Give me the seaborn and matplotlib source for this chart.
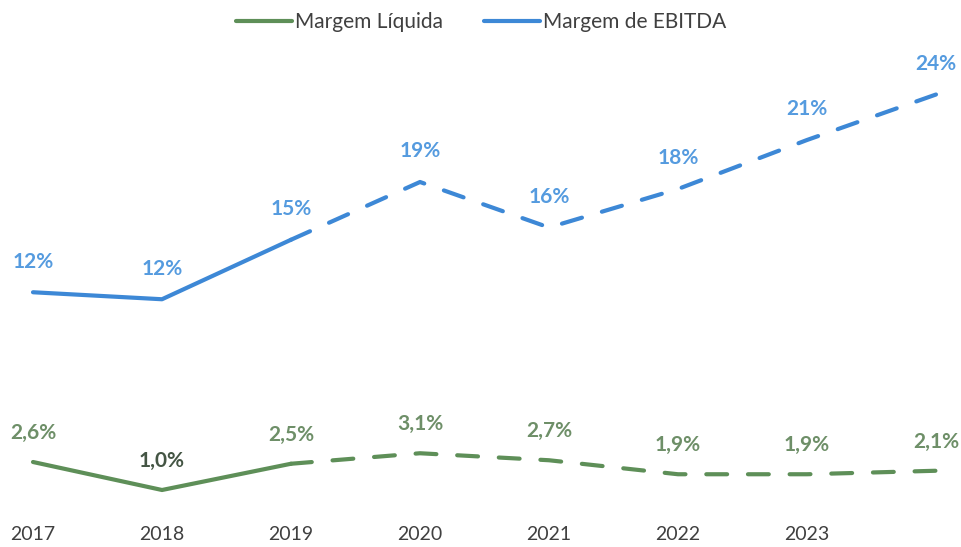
import matplotlib
matplotlib.use("Agg")
import matplotlib.pyplot as plt
import seaborn as sns
import pandas as pd

sns.set_style("white")
plt.rcParams["font.family"] = ["Lato", "DejaVu Sans"]

years = [2017, 2018, 2019, 2020, 2021, 2022, 2023, 2024]
year_labels = ["2017", "2018", "2019", "2020", "2021", "2022", "2023", ""]
margem_ebitda = [12.3, 11.9, 15.3, 18.6, 16.0, 18.2, 21.0, 23.6]
margem_liquida = [2.6, 1.0, 2.5, 3.1, 2.7, 1.9, 1.9, 2.1]
last_actual = 2019

blue = "#3D88D6"
blue_txt = "#559BDF"
green = "#5E8F58"
green_txt = "#6E8F68"

df = pd.concat([
    pd.DataFrame({"ano": years, "valor": margem_liquida, "serie": "Margem Líquida"}),
    pd.DataFrame({"ano": years, "valor": margem_ebitda, "serie": "Margem de EBITDA"}),
])
palette = {"Margem Líquida": green, "Margem de EBITDA": blue}

fig = plt.figure(figsize=(9.62, 5.47), dpi=100)
ax = fig.add_axes([0, 27 / 547, 1, 520 / 547])

# solid for realised years, dashed for the projection
solid = df[df["ano"] <= last_actual]
dashed = df[df["ano"] >= last_actual]
sns.lineplot(data=solid, x="ano", y="valor", hue="serie", palette=palette,
             linewidth=3, solid_capstyle="round", ax=ax)
sns.lineplot(data=dashed, x="ano", y="valor", hue="serie", palette=palette,
             linewidth=3, linestyle=(0, (5, 5)), dash_capstyle="round",
             legend=False, ax=ax)

for x, v in zip(years, margem_ebitda):
    ax.annotate(f"{round(v)}%", (x, v), xytext=(0, 22), textcoords="offset points",
                ha="center", va="center", fontsize=15, fontweight="bold", color=blue_txt)
for x, v in zip(years, margem_liquida):
    col = "#445544" if x == 2018 else green_txt
    ax.annotate(f"{v:.1f}%".replace(".", ","), (x, v), xytext=(0, 21),
                textcoords="offset points", ha="center", va="center",
                fontsize=15, fontweight="bold", color=col)

ax.set_xlim(2017 - 33 / 129, 2017 + 929 / 129)
ax.set_ylim((507.5 - 520) / 17.5, 507.5 / 17.5)
ax.set_xticks(years)
ax.set_xticklabels(year_labels, fontsize=14, color="#404040")
ax.tick_params(axis="x", length=0, pad=4)
ax.set_yticks([])
ax.set_xlabel("")
ax.set_ylabel("")
sns.despine(ax=ax, left=True, bottom=True)

ax.legend(loc="upper center", bbox_to_anchor=(0.5, 1.0), ncol=2, frameon=False,
          fontsize=15, handlelength=2.7, handletextpad=0.1, columnspacing=2.0,
          labelcolor="#404040", borderaxespad=0.2)

fig.savefig("out.png", dpi=100)
